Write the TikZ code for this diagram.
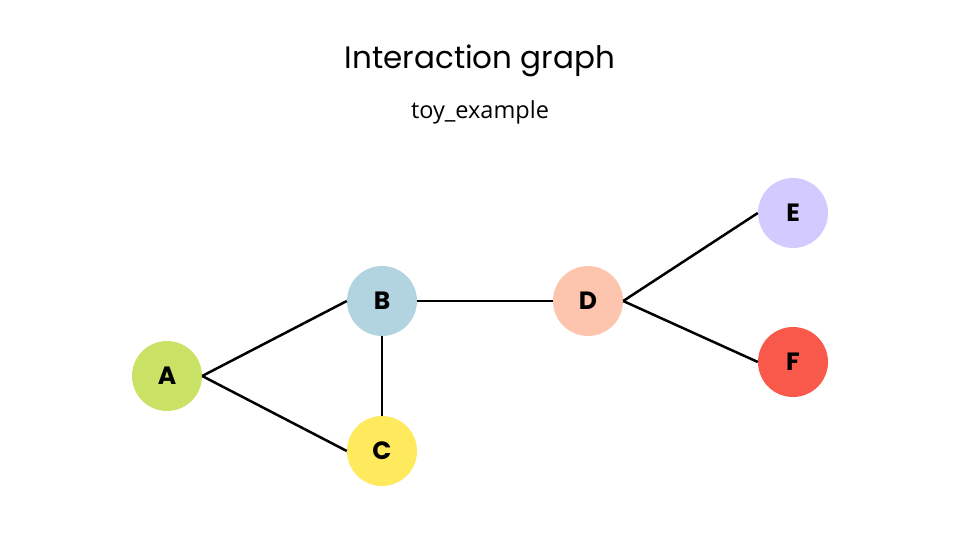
\documentclass[tikz,border=0pt]{standalone}
\usepackage{fontspec}
\setmainfont{Poppins}
\newfontfamily\subfont{Open Sans}
\usetikzlibrary{positioning}
\definecolor{NA}{RGB}{201,226,101}
\definecolor{NB}{RGB}{178,212,224}
\definecolor{NC}{RGB}{255,233,92}
\definecolor{ND}{RGB}{253,197,174}
\definecolor{NE}{RGB}{211,202,255}
\definecolor{NF}{RGB}{249,89,74}
\begin{document}
\begin{tikzpicture}[x=1pt, y=-1pt,
  vnode/.style={circle, minimum size=70pt, inner sep=0pt,
    font=\fontsize{25}{25}\selectfont\bfseries},
  link/.style={line width=2.5pt, black}]
\useasboundingbox (0,0) rectangle (960,540);

% Titles
\node[anchor=base] (title) at (480,69) {\fontsize{31}{31}\selectfont Interaction graph};
\node[anchor=base] (sub) at (480,119) {\subfont\fontsize{23.5}{23.5}\selectfont toy\_example};

% Vertices
\node[vnode, fill=NA] (A) at (167,376) {A};
\node[vnode, fill=NB] (B) at (382,301) {B};
\node[vnode, fill=NC] (C) at (382,451) {C};
\node[vnode, fill=ND] (D) at (588,301) {D};
\node[vnode, fill=NE] (E) at (793,213) {E};
\node[vnode, fill=NF] (F) at (793,362) {F};

% Edges
\draw[link] (A.east) -- (B.west);
\draw[link] (A.east) -- (C.west);
\draw[link] (B.south) -- (C.north);
\draw[link] (B.east) -- (D.west);
\draw[link] (D.east) -- (E.west);
\draw[link] (D.east) -- (F.west);
\end{tikzpicture}
\end{document}
